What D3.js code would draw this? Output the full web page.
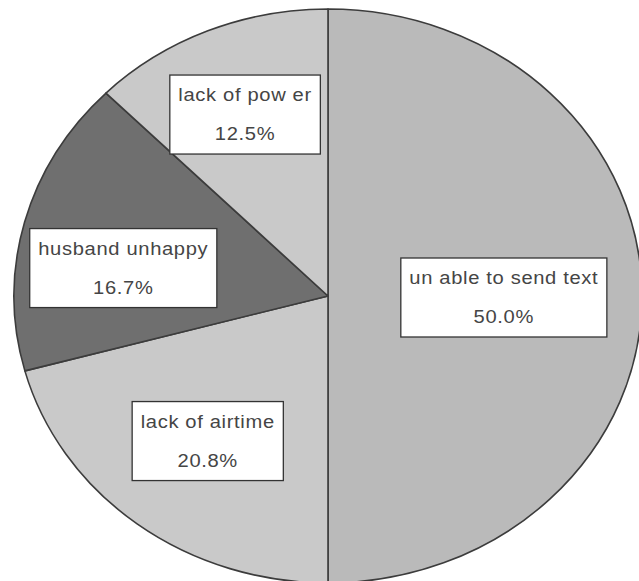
<!DOCTYPE html>
<html>
<head>
<meta charset="utf-8">
<script src="https://cdn.jsdelivr.net/npm/d3@7"></script>
<style>
  html, body { margin: 0; padding: 0; background: #fff; }
  svg { display: block; }
</style>
</head>
<body>
<svg id="chart" width="639" height="581"></svg>
<script>
// Reasons for not using the phone, share of respondents (%)
const categories = ["un able to send text", "lack of airtime", "husband unhappy", "lack of pow er"];
const shares = [50.0, 20.8, 16.7, 12.5];
const sliceColors = ["#bababa", "#c9c9c9", "#6f6f6f", "#c9c9c9"];

// Label placement: fraction of the radius and angular nudge (degrees) for each box
const labelRadius = [0.56, 0.63, 0.66, 0.69];
const labelAngleShift = [0, 0, -6, 0];

const W = 639, H = 581;
const cx = 328, cy = 296;
const ry = 287, rx = 314;
const sx = rx / ry;

const svg = d3.select("#chart");

const data = categories.map((c, i) => ({
  name: c, value: shares[i], color: sliceColors[i],
  lr: labelRadius[i], shift: labelAngleShift[i] * Math.PI / 180
}));

const pie = d3.pie().sort(null).value(d => d.value).startAngle(0).endAngle(2 * Math.PI);
const arcs = pie(data);
const arc = d3.arc().innerRadius(0).outerRadius(ry);

// Slightly oval pie: draw with a circular arc and stretch horizontally
const pieG = svg.append("g")
  .attr("transform", `translate(${cx},${cy}) scale(${sx},1)`);

pieG.selectAll("path.slice")
  .data(arcs)
  .join("path")
  .attr("class", "slice")
  .attr("d", arc)
  .attr("fill", d => d.data.color)
  .attr("stroke", "#3c3c3c")
  .attr("stroke-width", 1.6)
  .attr("stroke-linejoin", "round")
  .attr("vector-effect", "non-scaling-stroke");

// Label boxes
const labelG = svg.append("g").attr("transform", `translate(${cx},${cy + 1.5})`);
const fontSize = 18.5;
const textScale = 1.09;

arcs.forEach(a => {
  const mid = (a.startAngle + a.endAngle) / 2 + a.data.shift;
  const r = a.data.lr * ry;
  const x = Math.sin(mid) * r * sx, y = -Math.cos(mid) * r;
  const g = labelG.append("g").attr("transform", `translate(${x},${y})`);
  const rect = g.append("rect");
  const tg = g.append("g").attr("transform", `scale(${textScale},1)`);
  const common = t => t
    .attr("text-anchor", "middle")
    .attr("dominant-baseline", "central")
    .attr("font-family", "'Liberation Sans', Arial, sans-serif")
    .attr("font-size", fontSize)
    .attr("letter-spacing", "0.6px")
    .attr("fill", "#454545");
  const t1 = tg.append("text").attr("x", 0).attr("y", -20).text(a.data.name).call(common);
  tg.append("text").attr("x", 0).attr("y", 19).text(d3.format(".1f")(a.data.value) + "%").call(common);
  const bw = t1.node().getComputedTextLength() * textScale + 17;
  const bh = 79;
  rect.attr("x", -bw / 2).attr("y", -bh / 2)
    .attr("width", bw).attr("height", bh)
    .attr("fill", "#ffffff")
    .attr("stroke", "#333333")
    .attr("stroke-width", 1.3);
});
</script>
</body>
</html>
